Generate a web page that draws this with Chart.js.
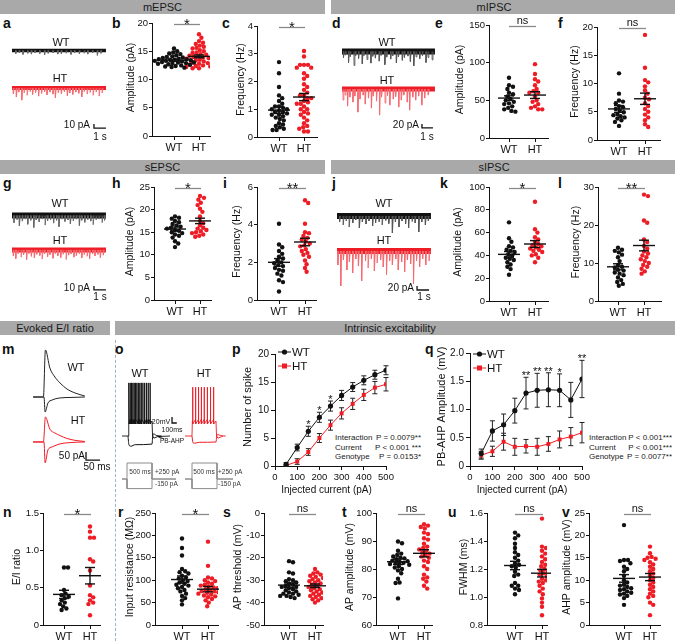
<!DOCTYPE html>
<html>
<head>
<meta charset="utf-8">
<title>Synaptic transmission and intrinsic excitability</title>
<script src="https://cdn.jsdelivr.net/npm/chart.js@4.4.1/dist/chart.umd.min.js"></script>
<style>
  body { margin: 0; background: #fff; }
  #fig { position: relative; width: 675px; height: 641px; overflow: hidden; font-family: Arial, "Liberation Sans", sans-serif; color: #111; }
  #fig canvas { position: absolute; }
  .hdr { position: absolute; height: 14px; background: #a9a9a9; font-size: 11px; line-height: 14px; text-align: center; color: #1a1a1a; }
  .lt { position: absolute; font-weight: bold; font-size: 14px; line-height: 1; }
  .tx { position: absolute; white-space: nowrap; line-height: 1; }
  .sep { position: absolute; left: 115px; top: 340px; height: 301px; border-left: 1px dashed #9fb4c2; }
  .stat { position: absolute; font-size: 8px; line-height: 9.5px; color: #222; }
  .stat div { display: flex; justify-content: space-between; }
</style>
</head>
<body>
<div id="fig">
  <div class="hdr" style="left:0;top:0;width:325px">mEPSC</div>
  <div class="hdr" style="left:331px;top:0;width:326px;padding-right:18px">mIPSC</div>
  <div class="hdr" style="left:0;top:160px;width:325px">sEPSC</div>
  <div class="hdr" style="left:331px;top:160px;width:326px;padding-right:18px">sIPSC</div>
  <div class="hdr" style="left:0;top:321px;width:110px">Evoked E/I ratio</div>
  <div class="hdr" style="left:115px;top:321px;width:550px;padding-right:10px">Intrinsic excitability</div>
  <div class="sep"></div>
  <div class="stat" style="left:335px;top:433px;width:86px">
    <div><span>Interaction</span><span>P = 0.0079**</span></div>
    <div><span>Current</span><span>P &lt; 0.001 ***</span></div>
    <div><span>Genotype</span><span>P = 0.0153*</span></div>
  </div>
  <div class="stat" style="left:589px;top:433px;width:83px">
    <div><span>Interaction</span><span>P &lt; 0.001***</span></div>
    <div><span>Current</span><span>P &lt; 0.001***</span></div>
    <div><span>Genotype</span><span>P = 0.0077**</span></div>
  </div>
</div>
<script>
// ---------- data ----------
const groups = ['WT', 'HT'];

// mEPSC
const mepscAmpWT = [15.5, 15.0, 14.8, 14.6, 14.5, 14.3, 14.1, 14.0, 13.9, 13.8, 13.7, 13.6, 13.6, 13.5, 13.5, 13.4, 13.3, 13.3, 13.2, 13.1, 13.0, 13.0, 12.9, 12.9, 12.8, 12.7, 12.6, 12.5, 12.4, 12.3, 12.2, 12.1];
const mepscAmpHT = [18.0, 17.4, 16.8, 16.5, 16.3, 16.0, 15.8, 15.6, 15.5, 15.2, 15.0, 14.8, 14.7, 14.5, 14.4, 14.2, 14.1, 14.0, 13.9, 13.8, 13.7, 13.6, 13.5, 13.4, 13.2, 13.0, 12.9, 12.8, 12.6, 12.5, 12.4, 12.3, 12.2, 12.0, 12.0];
const mepscAmpMean = [13.4, 14.1], mepscAmpSem = [0.15, 0.25];
const mepscFreqWT = [2.7, 2.3, 1.8, 1.5, 1.4, 1.3, 1.2, 1.1, 1.1, 1.05, 1.0, 1.0, 0.95, 0.9, 0.9, 0.85, 0.8, 0.8, 0.75, 0.7, 0.65, 0.6, 0.5, 0.45, 0.4, 0.35, 0.3, 0.25, 0.25];
const mepscFreqHT = [3.1, 2.9, 2.6, 2.6, 2.6, 2.5, 2.5, 2.3, 2.2, 2.1, 1.9, 1.8, 1.7, 1.6, 1.5, 1.5, 1.4, 1.4, 1.3, 1.25, 1.2, 1.2, 1.1, 1.0, 1.0, 0.9, 0.85, 0.8, 0.7, 0.6, 0.5, 0.4, 0.35, 0.3, 0.2, 0.2];
const mepscFreqMean = [0.97, 1.44], mepscFreqSem = [0.12, 0.13];
// mIPSC
const mipscAmpWT = [80, 70, 68, 65, 60, 58, 55, 52, 50, 48, 46, 45, 42, 40, 38, 36, 35];
const mipscAmpHT = [98, 85, 78, 75, 70, 65, 62, 60, 60, 55, 50, 48, 45, 42, 40, 38, 38];
const mipscAmpMean = [53, 57], mipscAmpSem = [3, 4.5];
const mipscFreqWT = [11.8, 8.2, 7.0, 6.8, 6.5, 6.0, 5.8, 5.5, 5.2, 4.9, 4.6, 4.4, 4.2, 4.0, 3.8, 3.5, 3.2, 2.5];
const mipscFreqHT = [18.6, 12.8, 10.6, 10.2, 9.5, 8.8, 8.2, 7.5, 7.2, 6.5, 6.0, 5.5, 5.0, 4.5, 4.0, 3.5, 2.8, 2.3];
const mipscFreqMean = [5.5, 7.3], mipscFreqSem = [0.6, 1.0];
// sEPSC
const sepscAmpWT = [18.5, 18.2, 18.0, 17.5, 17.2, 16.8, 16.5, 16.2, 16.0, 15.8, 15.5, 15.3, 15.0, 14.8, 14.5, 14.2, 13.8, 13.0, 12.5, 11.7];
const sepscAmpHT = [23.0, 22.6, 22.2, 21.5, 21.0, 20.2, 19.5, 18.5, 17.5, 17.0, 16.5, 16.0, 15.8, 15.5, 15.2, 15.0, 14.8, 14.5, 14.2, 14.0];
const sepscAmpMean = [15.7, 17.5], sepscAmpSem = [0.45, 0.6];
const sepscFreqWT = [4.05, 2.95, 2.8, 2.6, 2.45, 2.3, 2.2, 2.1, 2.0, 1.95, 1.85, 1.8, 1.7, 1.6, 1.55, 1.4, 1.3, 1.05, 0.95, 0.45];
const sepscFreqHT = [5.3, 5.15, 4.05, 3.6, 3.55, 3.4, 3.3, 3.2, 3.1, 3.0, 2.9, 2.85, 2.7, 2.6, 2.5, 2.4, 2.3, 2.1, 1.9, 1.7, 1.5];
const sepscFreqMean = [2.0, 3.08], sepscFreqSem = [0.2, 0.2];
// sIPSC
const sipscAmpWT = [69, 55, 52, 48, 47, 45, 44, 43, 41, 40, 38, 37, 36, 34, 32, 30, 28, 23];
const sipscAmpHT = [87, 63, 60, 56, 54, 52, 50, 49, 48, 47, 46, 45, 44, 43, 41, 40, 38, 34];
const sipscAmpMean = [40.9, 50.0], sipscAmpSem = [2.5, 3.0];
const sipscFreqWT = [14, 13.5, 13.2, 12.8, 12.2, 11.5, 10.5, 9.5, 9.0, 8.8, 8.2, 8.0, 7.5, 7.2, 6.8, 6.2, 5.5, 5.0, 4.5, 4.0];
const sipscFreqHT = [28, 27.6, 21.2, 20.6, 16.2, 15.5, 14.5, 13.8, 13.0, 12.5, 12.0, 11.5, 11.0, 10.5, 10.0, 9.5, 9.0, 8.5, 7.8, 7.2];
const sipscFreqMean = [9.0, 14.6], sipscFreqSem = [0.8, 1.4];
// evoked E/I
const eiWT = [0.77, 0.77, 0.47, 0.42, 0.40, 0.38, 0.36, 0.33, 0.30, 0.28, 0.25, 0.22, 0.20];
const eiHT = [1.32, 1.25, 1.17, 1.17, 0.88, 0.85, 0.73, 0.53, 0.40, 0.37, 0.33, 0.30, 0.28, 0.13];
const eiMean = [0.41, 0.66], eiSem = [0.055, 0.11];
// intrinsic
const rinWT = [193, 172, 155, 125, 120, 118, 115, 110, 106, 104, 100, 98, 95, 92, 90, 88, 85, 82, 78, 75, 70, 65, 60, 55, 46];
const rinHT = [186, 132, 106, 104, 100, 98, 95, 92, 90, 88, 86, 84, 82, 80, 78, 76, 75, 73, 72, 70, 68, 66, 64, 62, 58, 55, 50, 42];
const rinMean = [101.5, 80], rinSem = [8, 6];
const thrWT = [-21.5, -22, -26.5, -27, -29.5, -30, -30.5, -31, -31.5, -32, -32.5, -33, -33, -33.5, -34, -34.5, -35, -35.5, -36, -36, -36.5, -37, -37, -37.5, -38];
const thrHT = [-25, -26.5, -27, -27.5, -28, -28.5, -29, -29.5, -30, -30.5, -31, -31.5, -32, -32.5, -33, -33.5, -34, -34.5, -35, -35.5, -36, -36.5, -37, -37.5, -38, -38.5, -39, -40];
const thrMean = [-32.2, -32.5], thrSem = [1.0, 0.8];
const apAmpWT = [89.8, 89.2, 86.5, 85.5, 85, 84.5, 84, 83.8, 83.5, 83, 82.8, 82.5, 82.2, 82, 81.8, 81.5, 81, 80.5, 80, 79.5, 78.5, 76.5, 75.2, 75, 69.5];
const apAmpHT = [96, 95.5, 95, 94.5, 93, 92.5, 91, 90.5, 89, 88, 87.5, 87, 86.5, 86, 85.5, 85, 84.5, 84, 83, 82.5, 81, 80, 78, 77, 76.5, 75.5, 74, 73];
const apAmpMean = [82.6, 85.6], apAmpSem = [1.0, 1.3];
const fwhmWT = [1.46, 1.44, 1.42, 1.38, 1.35, 1.32, 1.30, 1.28, 1.26, 1.24, 1.23, 1.22, 1.21, 1.18, 1.16, 1.15, 1.10, 1.08, 1.08, 1.06, 1.05, 1.02];
const fwhmHT = [1.56, 1.36, 1.35, 1.33, 1.31, 1.29, 1.27, 1.25, 1.23, 1.22, 1.20, 1.19, 1.18, 1.17, 1.16, 1.15, 1.13, 1.12, 1.11, 1.10, 1.08, 1.06, 1.04, 1.02, 0.99, 0.96, 0.93, 0.87];
const fwhmMean = [1.225, 1.17], fwhmSem = [0.03, 0.027];
const ahpWT = [22.3, 14.5, 14.5, 14.3, 13.8, 13, 12.5, 12, 11, 10, 9.5, 9, 8.8, 8.5, 8.2, 8, 7.8, 7.5, 7.2, 7, 6.8, 6.5, 6, 4.5];
const ahpHT = [17.5, 16, 15.2, 15, 14.8, 14.5, 14, 13.5, 13, 12.5, 12, 11.5, 11, 10.5, 10, 9.5, 9, 8.5, 8, 7.5, 7, 6.5, 6.2, 5, 4.5, 2.2];
const ahpMean = [10.4, 10.7], ahpSem = [0.85, 0.8];

// current steps (p, q)
const injCurrent = [50, 100, 150, 200, 250, 300, 350, 400, 450, 500];
const spikeWT = [0.3, 3.3, 6.2, 8.7, 10.7, 12.6, 14.1, 15.3, 16.3, 17.1];
const spikeWTsem = [0.3, 0.6, 0.9, 0.9, 0.9, 0.9, 0.8, 0.8, 0.8, 0.8];
const spikeHT = [0.1, 0.8, 2.5, 5.0, 7.3, 9.4, 11.1, 12.7, 14.0, 14.6];
const spikeHTsem = [0.1, 0.5, 0.6, 0.8, 0.9, 1.0, 1.0, 1.0, 1.1, 1.2];
const spikeStars = ['', '', '*', '*', '*', '', '', '', '', ''];
const pbWT = [0.22, 0.62, 0.73, 0.98, 1.29, 1.34, 1.35, 1.34, 1.17, 1.54];
const pbWTsem = [0.08, 0.18, 0.19, 0.22, 0.28, 0.30, 0.30, 0.29, 0.31, 0.33];
const pbHT = [0.19, 0.26, 0.43, 0.34, 0.35, 0.34, 0.39, 0.47, 0.52, 0.59];
const pbHTsem = [0.07, 0.09, 0.15, 0.15, 0.12, 0.15, 0.13, 0.15, 0.16, 0.18];
const pbStars = ['', '', '', '', '**', '**', '**', '*', '', '**'];

// example traces: event times (s) and amplitudes (pA)
const aWTt = [0.3, 0.6, 0.9, 1.3, 1.6, 1.9, 2.3, 2.7, 3.0, 3.4, 3.8, 4.1, 4.5, 4.9, 5.2, 5.6, 6.0, 6.3, 6.7, 7.1, 7.4];
const aWTa = [8, 6, 10, 7, 9, 6, 8, 11, 7, 6, 9, 8, 7, 10, 6, 8, 7, 9, 6, 12, 7];
const aHTt = [0.1, 0.35, 0.55, 0.8, 1.0, 1.25, 1.5, 1.7, 1.95, 2.2, 2.45, 2.7, 2.9, 3.15, 3.4, 3.6, 3.85, 4.1, 4.35, 4.6, 4.8, 5.05, 5.3, 5.55, 5.8, 6.0, 6.25, 6.5, 6.75, 7.0, 7.25, 7.5];
const aHTa = [14, 22, 10, 30, 12, 18, 9, 16, 11, 20, 13, 9, 17, 10, 15, 24, 11, 14, 9, 19, 12, 16, 10, 13, 22, 9, 15, 11, 18, 10, 20, 12];
const dWTt = [0.12, 0.31, 0.58, 0.74, 1.08, 1.22, 1.49, 1.83, 1.97, 2.26, 2.61, 2.78, 3.02, 3.37, 3.55, 3.88, 4.05, 4.41, 4.6, 4.93, 5.12, 5.47, 5.66, 5.98, 6.2, 6.51, 6.72, 7.05, 7.3, 7.62, 7.81, 8.18];
const dWTa = [30, 18, 55, 25, 70, 22, 35, 62, 20, 40, 58, 24, 33, 48, 19, 66, 28, 38, 21, 57, 26, 44, 30, 23, 50, 72, 27, 36, 20, 55, 30, 42];
const dHTt = [0.08, 0.27, 0.49, 0.7, 0.98, 1.15, 1.43, 1.62, 1.91, 2.1, 2.39, 2.66, 2.83, 3.12, 3.4, 3.58, 3.9, 4.12, 4.33, 4.65, 4.86, 5.14, 5.38, 5.6, 5.92, 6.13, 6.42, 6.68, 6.95, 7.24, 7.5, 7.83];
const dHTa = [55, 30, 85, 40, 65, 35, 115, 50, 30, 75, 45, 95, 35, 60, 130, 40, 70, 32, 80, 50, 38, 90, 55, 30, 65, 105, 40, 55, 35, 80, 45, 30];
const gWTt = [0.15, 0.4, 0.6, 0.85, 1.1, 1.3, 1.55, 1.8, 2.0, 2.25, 2.5, 2.75, 2.95, 3.2, 3.45, 3.7, 3.9, 4.15, 4.4, 4.65, 4.85, 5.1, 5.35, 5.6, 5.8, 6.05, 6.3, 6.55, 6.75, 7.0, 7.25, 7.5, 7.7];
const gWTa = [18, 10, 26, 14, 9, 22, 12, 30, 11, 16, 9, 24, 13, 10, 19, 12, 28, 9, 15, 11, 21, 13, 9, 25, 12, 17, 10, 14, 23, 11, 9, 18, 12];
const gHTt = [0.1, 0.3, 0.5, 0.75, 0.95, 1.2, 1.4, 1.6, 1.85, 2.05, 2.3, 2.5, 2.7, 2.95, 3.15, 3.4, 3.6, 3.8, 4.05, 4.25, 4.5, 4.7, 4.9, 5.15, 5.35, 5.6, 5.8, 6.0, 6.25, 6.45, 6.7, 6.9, 7.15, 7.35, 7.6];
const gHTa = [15, 22, 10, 18, 12, 25, 9, 16, 20, 11, 14, 23, 10, 17, 12, 21, 9, 15, 19, 11, 24, 13, 10, 18, 14, 9, 20, 12, 16, 22, 10, 15, 11, 19, 13];
const jWTt = [0.2, 0.5, 0.75, 1.0, 1.3, 1.55, 1.85, 2.1, 2.4, 2.65, 2.95, 3.2, 3.5, 3.75, 4.05, 4.3, 4.6, 4.85, 5.15, 5.4, 5.7, 5.95, 6.25, 6.5, 6.8, 7.05, 7.35, 7.6];
const jWTa = [30, 45, 25, 55, 35, 20, 60, 30, 40, 25, 50, 35, 28, 45, 22, 38, 85, 30, 55, 25, 40, 60, 28, 35, 80, 30, 45, 25];
const jHTt = [0.06, 0.3, 0.52, 0.81, 1.02, 1.29, 1.55, 1.77, 2.04, 2.36, 2.58, 2.85, 3.1, 3.33, 3.62, 3.84, 4.11, 4.37, 4.6, 4.88, 5.09, 5.37, 5.62, 5.85, 6.12, 6.36, 6.61, 6.87, 7.12, 7.38, 7.66];
const jHTa = [70, 175, 45, 95, 55, 110, 40, 75, 150, 50, 85, 40, 100, 60, 45, 80, 120, 50, 70, 40, 95, 55, 105, 45, 65, 165, 50, 80, 40, 70, 50];

// evoked currents (m): time (ms), current (pA)
const mOutT = [11, 48, 55, 71, 89, 107, 132, 161, 196];
const mWTout = [0, 0, 294, 181, 125, 88, 50, 25, 6];
const mHTout = [0, 0, 156, 80, 56, 40, 22, 10, 3];
const mInT = [11, 50, 54, 64, 79, 107, 143, 196];
const mWTin = [0, 0, -94, -38, -19, -6, -3, 0];
const mHTin = [0, 0, -131, -50, -31, -12, -4, 0];

// current-clamp traces (o): time (ms), voltage (mV)
const oWTspikes = [20, 45, 72, 100, 128, 156, 185, 214, 245, 276, 310, 345, 382, 420, 460];
const oHTspikes = [15, 75, 135, 195, 255, 320, 385, 450];
const oWTdepT = [-125, 0, 8, 500, 512, 540, 620, 875];
const oHTdepT = [-146, 0, 8, 500, 512, 540, 620, 646];
const oDepV = [-70, -70, -20, -20, -70, -77, -72, -70];
const oHypT = [0, 20, 60, 150, 500, 515, 535, 600, 700];
const oWThypV = [-70, -100, -104, -99, -97, -70, -63, -69, -70];
const oHThypV = [-70, -92, -94, -91, -90, -70, -65, -69, -70];
const stimAmps = [250, -150], stimDur = 500;

// ---------- helpers ----------
const RED = '#ee1c25';
const FONT = 'Arial, "Liberation Sans", sans-serif';
Chart.defaults.font.family = FONT;
Chart.defaults.color = '#111';
Chart.defaults.animation = false;
Chart.defaults.responsive = false;
Chart.defaults.maintainAspectRatio = false;
Chart.defaults.events = [];
Chart.defaults.plugins.legend.display = false;
Chart.defaults.plugins.tooltip.enabled = false;

const fig = document.getElementById('fig');

function addCanvas(l, t, w, h) {
  const c = document.createElement('canvas');
  c.width = Math.round(w); c.height = Math.round(h);
  c.style.left = Math.round(l) + 'px'; c.style.top = Math.round(t) + 'px';
  fig.appendChild(c);
  return c;
}

function txt(s, x, y, size, align, color) {
  const d = document.createElement('div');
  d.className = 'tx';
  d.textContent = s;
  d.style.left = x + 'px'; d.style.top = y + 'px';
  d.style.fontSize = size + 'px';
  if (color) d.style.color = color;
  const tx = align === 'c' ? -50 : align === 'r' ? -100 : 0;
  d.style.transform = 'translate(' + tx + '%, -50%)';
  fig.appendChild(d);
}

function letter(ch, x, base) {
  const d = document.createElement('div');
  d.className = 'lt'; d.textContent = ch;
  d.style.left = x + 'px'; d.style.top = (base - 12) + 'px';
  fig.appendChild(d);
}

const axisGrid = () => ({ drawOnChartArea: false, drawTicks: true, tickLength: 4, color: '#111', tickColor: '#111', lineWidth: 1 });
const axisBorder = () => ({ display: true, color: '#111', width: 1 });

function seg(ctx, x1, y1, x2, y2) { ctx.beginPath(); ctx.moveTo(x1, y1); ctx.lineTo(x2, y2); ctx.stroke(); }

function yTitle(ctx, text, x, cy, size) {
  ctx.save();
  ctx.translate(x, cy); ctx.rotate(-Math.PI / 2);
  ctx.font = size + 'px ' + FONT; ctx.fillStyle = '#111';
  ctx.textAlign = 'center'; ctx.textBaseline = 'middle';
  ctx.fillText(text, 0, 0);
  ctx.restore();
}

// simple beeswarm: pixel offsets so dots don't overlap much
function swarm(vals, toPix, r) {
  const order = vals.map((v, i) => i).sort((a, b) => vals[b] - vals[a]);
  const off = [], placed = [], dmin = 2 * r - 0.5;
  for (const i of order) {
    const py = toPix(vals[i]);
    for (let k = 0; k < 80; k++) {
      const dx = k === 0 ? 0 : (k % 2 ? 1 : -1) * Math.ceil(k / 2) * 0.8;
      if (placed.every(p => (p[0] - dx) ** 2 + (p[1] - py) ** 2 >= dmin * dmin)) {
        off[i] = dx; placed.push([dx, py]); break;
      }
    }
  }
  return off;
}

// WT vs HT scatter with mean ± SEM
function dotPlot(o) {
  const PT = 18, XH = 26, PR = 4, R = 2.2;
  const left = Math.round(o.titleX - 8);
  const yw = o.ax - left, pw = o.right - o.ax, ph = o.bottom - o.top;
  const cv = addCanvas(left, o.top - PT, yw + pw + PR, PT + ph + XH);
  const s = o.ht - o.wt;
  const toPix = v => o.bottom - (v - o.min) / (o.max - o.min) * ph;
  const pts = (vals, c) => {
    const off = swarm(vals, toPix, R);
    return vals.map((v, i) => ({ x: c + off[i] / s, y: v }));
  };
  const yTicks = { stepSize: o.step, font: { size: 9.5 }, color: '#111', padding: 1 };
  if (o.dec) yTicks.callback = v => (v === 0 ? '0' : v.toFixed(o.dec));
  const yGrid = axisGrid(); yGrid.tickLength = 3;
  new Chart(cv, {
    type: 'scatter',
    data: { datasets: [
      { data: pts(o.wtv, 1), backgroundColor: '#111', borderWidth: 0, pointRadius: R },
      { data: pts(o.htv, 2), backgroundColor: RED, borderWidth: 0, pointRadius: R }
    ] },
    options: {
      layout: { padding: { top: PT, right: PR, left: 0, bottom: 0 } },
      scales: {
        x: {
          type: 'linear', min: 1 - (o.wt - o.ax) / s, max: 2 + (o.right - o.ht) / s,
          afterBuildTicks: sc => { sc.ticks = [{ value: 1 }, { value: 2 }]; },
          ticks: { callback: v => groups[v - 1], font: { size: 11 }, color: '#111', padding: 1, maxRotation: 0, autoSkip: false },
          grid: axisGrid(), border: axisBorder(),
          afterFit: sc => { sc.height = XH; }
        },
        y: {
          min: o.min, max: o.max, ticks: yTicks, grid: yGrid, border: axisBorder(),
          afterFit: sc => { sc.width = yw; }
        }
      }
    },
    plugins: [{
      id: 'deco',
      afterDatasetsDraw(ch) {
        const { ctx, chartArea } = ch, x = ch.scales.x, y = ch.scales.y;
        ctx.save();
        ctx.strokeStyle = '#111'; ctx.lineWidth = 1.4;
        [1, 2].forEach((c, g) => {
          const cx = x.getPixelForValue(c), m = y.getPixelForValue(o.mean[g]);
          const hi = y.getPixelForValue(o.mean[g] + o.sem[g]), lo = y.getPixelForValue(o.mean[g] - o.sem[g]);
          seg(ctx, cx - 11, m, cx + 11, m);
          seg(ctx, cx, hi, cx, lo);
          seg(ctx, cx - 5, hi, cx + 5, hi);
          seg(ctx, cx - 5, lo, cx + 5, lo);
        });
        const x1 = x.getPixelForValue(1), x2 = x.getPixelForValue(2), sy = chartArea.top + 1.5;
        ctx.strokeStyle = '#8a8a8a'; ctx.lineWidth = 1.3;
        seg(ctx, x1, sy, x2 + 1, sy);
        ctx.fillStyle = '#111'; ctx.textAlign = 'center'; ctx.textBaseline = 'alphabetic';
        if (o.sig === 'ns') {
          ctx.font = '11px ' + FONT; ctx.fillText('ns', (x1 + x2) / 2 + 0.5, sy - 2.5);
        } else {
          ctx.font = '15px ' + FONT; ctx.fillText(o.sig, (x1 + x2) / 2 + 0.5, sy + 4.5);
        }
        ctx.restore();
        yTitle(ctx, o.title, o.titleX - left, (chartArea.top + chartArea.bottom) / 2 - 2, 10.5);
      }
    }]
  });
}

// injected current curves with SEM bars
function curvePlot(o) {
  const PT = 14, XH = 31, PR = 12;
  const left = Math.round(o.titleX - 8);
  const yw = o.ax - left, pw = o.right - o.ax, ph = o.bottom - o.top;
  const cv = addCanvas(left, o.top - PT, yw + pw + PR, PT + ph + XH);
  const series = vals => injCurrent.map((c, i) => ({ x: c, y: vals[i] }));
  new Chart(cv, {
    type: 'line',
    data: { datasets: [
      { data: series(o.wt), borderColor: '#111', backgroundColor: '#111', borderWidth: 1, pointRadius: 2.6, pointStyle: 'circle', pointBorderWidth: 0 },
      { data: series(o.ht), borderColor: RED, backgroundColor: RED, borderWidth: 1, pointRadius: 2.8, pointStyle: 'rect', pointBorderWidth: 0 }
    ] },
    options: {
      layout: { padding: { top: PT, right: PR, left: 0, bottom: 0 } },
      elements: { line: { tension: 0 } },
      scales: {
        x: {
          type: 'linear', min: 0, max: 500,
          ticks: { stepSize: 100, font: { size: 9.5 }, color: '#111', padding: 2, maxRotation: 0 },
          grid: axisGrid(), border: axisBorder(),
          afterFit: sc => { sc.height = XH; }
        },
        y: {
          min: 0, max: o.max,
          ticks: { stepSize: o.step, font: { size: 10 }, color: '#111', padding: 2, callback: o.fmt },
          grid: axisGrid(), border: axisBorder(),
          afterFit: sc => { sc.width = yw; }
        }
      }
    },
    plugins: [{
      id: 'errs',
      beforeDatasetsDraw(ch) {
        const ctx = ch.ctx, x = ch.scales.x, y = ch.scales.y;
        ctx.save(); ctx.strokeStyle = '#222'; ctx.lineWidth = 1;
        [[o.wt, o.wtSem], [o.ht, o.htSem]].forEach(([m, e]) => {
          injCurrent.forEach((c, i) => {
            const px = x.getPixelForValue(c), hi = y.getPixelForValue(m[i] + e[i]), lo = y.getPixelForValue(m[i] - e[i]);
            seg(ctx, px, hi, px, lo);
            seg(ctx, px - 2.5, hi, px + 2.5, hi);
            seg(ctx, px - 2.5, lo, px + 2.5, lo);
          });
        });
        ctx.restore();
      },
      afterDatasetsDraw(ch) {
        const { ctx, chartArea } = ch, x = ch.scales.x, y = ch.scales.y;
        ctx.save();
        // significance marks
        ctx.fillStyle = '#111'; ctx.font = '11px ' + FONT; ctx.textAlign = 'center'; ctx.textBaseline = 'alphabetic';
        injCurrent.forEach((c, i) => {
          if (o.stars[i]) ctx.fillText(o.stars[i], x.getPixelForValue(c), y.getPixelForValue(o.wt[i] + o.wtSem[i]) + 2);
        });
        // legend
        const lx = chartArea.left + 3, ly = chartArea.top + o.legDy;
        [['WT', '#111', 'circle'], ['HT', RED, 'rect']].forEach(([name, col, shape], k) => {
          const yy = ly + k * 14;
          ctx.strokeStyle = col; ctx.fillStyle = col; ctx.lineWidth = 1;
          seg(ctx, lx, yy, lx + 13, yy);
          if (shape === 'circle') { ctx.beginPath(); ctx.arc(lx + 6.5, yy, 2.6, 0, Math.PI * 2); ctx.fill(); }
          else ctx.fillRect(lx + 4, yy - 2.5, 5, 5);
          ctx.fillStyle = '#111'; ctx.font = '11.5px ' + FONT; ctx.textAlign = 'left'; ctx.textBaseline = 'middle';
          ctx.fillText(name, lx + 14, yy + 0.5);
        });
        ctx.restore();
        yTitle(ctx, o.title, o.titleX - left, (chartArea.top + chartArea.bottom) / 2 - 3, 11);
        ctx.save();
        ctx.fillStyle = '#111'; ctx.font = '10px ' + FONT; ctx.textAlign = 'center'; ctx.textBaseline = 'middle';
        ctx.fillText('Injected current (pA)', (chartArea.left + chartArea.right) / 2 - 4, chartArea.bottom + 24);
        ctx.restore();
      }
    }]
  });
}

// trace canvas: map gives page x of t=0, px per unit, page y of 0, px per unit
function traceChart(rect, map, sets, extra) {
  const [l, t, w, h] = rect;
  const cv = addCanvas(l, t, w, h);
  return new Chart(cv, {
    type: 'line',
    data: { datasets: sets },
    options: {
      layout: { padding: 0 },
      elements: { point: { radius: 0 }, line: { tension: 0 } },
      scales: {
        x: { type: 'linear', display: false, min: (l - map.x0) / map.px, max: (l + w - map.x0) / map.px },
        y: { type: 'linear', display: false, min: -(t + h - map.y0) / map.py, max: (map.y0 - t) / map.py }
      }
    },
    plugins: extra ? [extra] : []
  });
}

function band(tEnd, base, color, bw) {
  return { data: [{ x: 0, y: base }, { x: tEnd, y: base }], borderColor: color, borderWidth: bw };
}
function spikes(ts, amps, base, color) {
  const pts = [];
  ts.forEach((t, i) => {
    pts.push({ x: t, y: base }, { x: t + 0.015, y: base - amps[i] }, { x: t + 0.09, y: base }, { x: t + 0.09, y: null });
  });
  return { data: pts, borderColor: color, borderWidth: 0.9, spanGaps: false };
}
function scaleBar(t, y, dt, dy) {
  return { data: [{ x: t, y: y + dy }, { x: t, y: y }, { x: t + dt, y: y }], borderColor: '#111', borderWidth: 1.3 };
}
function xy(ts, vs, shift, off) {
  return ts.map((t, i) => ({ x: t + (shift || 0), y: vs[i] + (off || 0) }));
}

// ---------- panel letters ----------
[['a', 3, 28], ['b', 112, 28], ['c', 222, 28], ['d', 332, 28], ['e', 435, 28], ['f', 558, 28],
 ['g', 3, 188], ['h', 112, 188], ['i', 223, 188], ['j', 332, 188], ['k', 440, 188], ['l', 558, 188],
 ['m', 2, 354], ['o', 115, 354], ['p', 232, 354], ['q', 425, 354],
 ['n', 3, 517], ['r', 118, 517], ['s', 223, 517], ['t', 342, 517], ['u', 448, 517], ['v', 562, 517]]
  .forEach(([c, x, b]) => letter(c, x, b));

// ---------- example traces a, d, g, j ----------
traceChart([8, 38, 104, 100], { x0: 12, px: 12, y0: 50.5, py: 0.4 }, [
  spikes(aWTt, aWTa, 0, '#666'), band(7.83, 0, '#111', 3.5),
  spikes(aHTt, aHTa, -94, '#f56b72'), band(7.83, -94, RED, 4),
  scaleBar(6.83, -194, 1, 10)
]);
txt('WT', 61, 42, 11, 'c'); txt('HT', 60, 78, 11, 'c');
txt('10 pA', 90, 125, 10, 'r'); txt('1 s', 100, 137, 10, 'c');

traceChart([338, 38, 100, 100], { x0: 342, px: 11, y0: 51.5, py: 0.2 }, [
  spikes(dWTt, dWTa, 0, '#555'), band(8.45, 0, '#111', 6),
  spikes(dHTt, dHTa, -188, '#f56b72'), band(8.45, -188, RED, 5),
  scaleBar(7.27, -382, 1, 20)
]);
txt('WT', 387, 42, 11, 'c'); txt('HT', 387, 80, 11, 'c');
txt('20 pA', 419, 125, 10, 'r'); txt('1 s', 427, 137, 10, 'c');

traceChart([8, 198, 104, 100], { x0: 12, px: 12, y0: 215.5, py: 0.4 }, [
  spikes(gWTt, gWTa, 0, '#666'), band(7.83, 0, '#111', 6),
  spikes(gHTt, gHTa, -86, '#f56b72'), band(7.83, -86, RED, 5),
  scaleBar(6.83, -186, 1, 10)
]);
txt('WT', 60, 203, 11, 'c'); txt('HT', 60, 240, 11, 'c');
txt('10 pA', 90, 288, 10, 'r'); txt('1 s', 100, 297, 10, 'c');

traceChart([333, 198, 100, 100], { x0: 337, px: 12, y0: 216, py: 0.2 }, [
  spikes(jWTt, jWTa, 0, '#555'), band(7.83, 0, '#111', 6),
  spikes(jHTt, jHTa, -175, '#f56b72'), band(7.83, -175, RED, 6),
  scaleBar(6.67, -370, 1, 20)
]);
txt('WT', 384, 203, 11, 'c'); txt('HT', 384, 240, 11, 'c');
txt('20 pA', 414, 288, 10, 'r'); txt('1 s', 424, 297, 10, 'c');

// ---------- dot plots ----------
dotPlot({ ax: 152, top: 23, bottom: 136, right: 210, wt: 174, ht: 199, titleX: 131, min: 0, max: 20, step: 5, title: 'Amplitude (pA)', wtv: mepscAmpWT, htv: mepscAmpHT, mean: mepscAmpMean, sem: mepscAmpSem, sig: '*' });
dotPlot({ ax: 257, top: 26, bottom: 137, right: 317, wt: 279, ht: 304, titleX: 241, min: 0, max: 4, step: 1, title: 'Frequency (Hz)', wtv: mepscFreqWT, htv: mepscFreqHT, mean: mepscFreqMean, sem: mepscFreqSem, sig: '*' });
dotPlot({ ax: 489, top: 25, bottom: 138, right: 548, wt: 509, ht: 535, titleX: 460, min: 0, max: 150, step: 50, title: 'Amplitude (pA)', wtv: mipscAmpWT, htv: mipscAmpHT, mean: mipscAmpMean, sem: mipscAmpSem, sig: 'ns' });
dotPlot({ ax: 597, top: 27, bottom: 140, right: 660, wt: 619, ht: 645, titleX: 575, min: 0, max: 20, step: 5, title: 'Frequency (Hz)', wtv: mipscFreqWT, htv: mipscFreqHT, mean: mipscFreqMean, sem: mipscFreqSem, sig: 'ns' });
dotPlot({ ax: 154, top: 187, bottom: 300, right: 211, wt: 175, ht: 200, titleX: 130, min: 0, max: 25, step: 5, title: 'Amplitude (pA)', wtv: sepscAmpWT, htv: sepscAmpHT, mean: sepscAmpMean, sem: sepscAmpSem, sig: '*' });
dotPlot({ ax: 257, top: 187, bottom: 300, right: 316, wt: 279, ht: 305, titleX: 237, min: 0, max: 6, step: 2, title: 'Frequency (Hz)', wtv: sepscFreqWT, htv: sepscFreqHT, mean: sepscFreqMean, sem: sepscFreqSem, sig: '**' });
dotPlot({ ax: 489, top: 187, bottom: 301, right: 548, wt: 509, ht: 535, titleX: 458, min: 0, max: 100, step: 20, title: 'Amplitude (pA)', wtv: sipscAmpWT, htv: sipscAmpHT, mean: sipscAmpMean, sem: sipscAmpSem, sig: '*' });
dotPlot({ ax: 598, top: 187, bottom: 301, right: 661, wt: 618, ht: 644, titleX: 576, min: 0, max: 30, step: 10, title: 'Frequency (Hz)', wtv: sipscFreqWT, htv: sipscFreqHT, mean: sipscFreqMean, sem: sipscFreqSem, sig: '**' });
dotPlot({ ax: 43, top: 513, bottom: 625, right: 100, wt: 64, ht: 90, titleX: 17, min: 0, max: 1.5, step: 0.5, dec: 1, title: 'E/I ratio', wtv: eiWT, htv: eiHT, mean: eiMean, sem: eiSem, sig: '*' });
dotPlot({ ax: 155, top: 513, bottom: 625, right: 218, wt: 182, ht: 208, titleX: 130, min: 0, max: 250, step: 50, title: 'Input resistance (MΩ)', wtv: rinWT, htv: rinHT, mean: rinMean, sem: rinSem, sig: '*' });
dotPlot({ ax: 264, top: 513, bottom: 625, right: 323, wt: 289, ht: 315, titleX: 238, min: -50, max: 0, step: 10, title: 'AP threshold (mV)', wtv: thrWT, htv: thrHT, mean: thrMean, sem: thrSem, sig: 'ns' });
dotPlot({ ax: 376, top: 513, bottom: 625, right: 432, wt: 398, ht: 424, titleX: 350, min: 60, max: 100, step: 10, title: 'AP amplitude (mV)', wtv: apAmpWT, htv: apAmpHT, mean: apAmpMean, sem: apAmpSem, sig: 'ns' });
dotPlot({ ax: 487, top: 513, bottom: 625, right: 547, wt: 515, ht: 542, titleX: 464, min: 0.8, max: 1.6, step: 0.2, dec: 1, title: 'FWHM (ms)', wtv: fwhmWT, htv: fwhmHT, mean: fwhmMean, sem: fwhmSem, sig: 'ns' });
dotPlot({ ax: 589, top: 513, bottom: 625, right: 660, wt: 624, ht: 650, titleX: 567, min: 0, max: 25, step: 5, title: 'AHP amplitude (mV)', wtv: ahpWT, htv: ahpHT, mean: ahpMean, sem: ahpSem, sig: 'ns' });

// ---------- m: evoked EPSC/IPSC ----------
const mHTshift = -281;
traceChart([30, 340, 82, 130], { x0: 30, px: 0.28, y0: 397, py: 0.16 }, [
  { data: xy(mOutT, mWTout), borderColor: '#222', borderWidth: 1, cubicInterpolationMode: 'monotone' },
  { data: xy(mInT, mWTin), borderColor: '#222', borderWidth: 1, cubicInterpolationMode: 'monotone' },
  { data: xy(mOutT, mHTout, 0, mHTshift), borderColor: RED, borderWidth: 1, cubicInterpolationMode: 'monotone' },
  { data: xy(mInT, mHTin, 0, mHTshift), borderColor: RED, borderWidth: 1, cubicInterpolationMode: 'monotone' },
  scaleBar(200, -394, 50, 50)
]);
txt('WT', 76, 367, 11, 'c'); txt('HT', 78, 420, 11, 'c');
txt('50 pA', 85, 456, 10, 'r'); txt('50 ms', 97, 467, 10, 'c');

// ---------- o: firing traces ----------
function depolTrace(ts, spk, peak, shift) {
  const pts = xy(ts.slice(0, 3), oDepV.slice(0, 3), shift);
  spk.forEach(t => pts.push({ x: t - 1 + shift, y: -15 }, { x: t + shift, y: peak }, { x: t + 3 + shift, y: -30 }));
  return pts.concat(xy(ts.slice(3), oDepV.slice(3), shift));
}
const oHTshift = 1333;
traceChart([117, 378, 120, 72], { x0: 128, px: 0.048, y0: 436 - 70 * 0.3, py: 0.3 }, [
  { data: xy(oHypT, oWThypV), borderColor: '#111', borderWidth: 1, cubicInterpolationMode: 'monotone' },
  { data: depolTrace(oWTdepT, oWTspikes, 107, 0), borderColor: '#111', borderWidth: 0.9 },
  { data: xy(oHypT, oHThypV, oHTshift), borderColor: RED, borderWidth: 1, cubicInterpolationMode: 'monotone' },
  { data: depolTrace(oHTdepT, oHTspikes, 93, oHTshift), borderColor: RED, borderWidth: 0.9 },
  scaleBar(917, -26.7, 100, 20)
], {
  id: 'arrow',
  afterDatasetsDraw(ch) {
    const c = ch.ctx;
    c.save(); c.strokeStyle = '#111'; c.fillStyle = '#111'; c.lineWidth = 0.8;
    const x0 = 164 - 117, y0 = 439 - 378, x1 = 157.5 - 117, y1 = 436 - 378;
    seg(c, x0, y0, x1, y1);
    c.beginPath(); c.moveTo(x1, y1); c.lineTo(x1 + 3, y1 - 0.2); c.lineTo(x1 + 1.8, y1 + 2.2); c.closePath(); c.fill();
    c.restore();
  }
});
txt('WT', 140, 373, 11, 'c'); txt('HT', 204, 373, 11, 'c');
txt('20mV', 161, 421, 7, 'c'); txt('100ms', 172, 429, 7, 'c'); txt('PB-AHP', 172, 441, 6.5, 'c');

// stimulation protocol
function stepTrace(amp, pre, post, shift) {
  return [{ x: pre, y: 0 }, { x: 0, y: 0 }, { x: 0, y: amp }, { x: stimDur, y: amp }, { x: stimDur, y: 0 }, { x: post, y: 0 }]
    .map(p => ({ x: p.x + shift, y: p.y }));
}
traceChart([117, 458, 120, 33], { x0: 127, px: 0.05, y0: 479, py: 0.064 },
  stimAmps.map(a => ({ data: stepTrace(a, -100, 980, 0), borderColor: '#8c8c8c', borderWidth: 1 }))
    .concat(stimAmps.map(a => ({ data: stepTrace(a, -140, 820, 1300), borderColor: '#8c8c8c', borderWidth: 1 }))));
txt('500 ms', 140, 472, 6.5, 'c', '#333'); txt('+250 pA', 155, 472, 6.5, 'l', '#333'); txt('-150 pA', 155, 484, 6.5, 'l', '#333');
txt('500 ms', 204, 472, 6.5, 'c', '#333'); txt('+250 pA', 218, 472, 6.5, 'l', '#333'); txt('-150 pA', 218, 484, 6.5, 'l', '#333');

// ---------- p, q ----------
curvePlot({ ax: 275, top: 354, bottom: 466, right: 386, titleX: 248, max: 20, step: 5, title: 'Number of spike',
  wt: spikeWT, wtSem: spikeWTsem, ht: spikeHT, htSem: spikeHTsem, stars: spikeStars, legDy: -2 });
curvePlot({ ax: 470, top: 353, bottom: 466, right: 582, titleX: 442, max: 2, step: 0.5, title: 'PB-AHP Amplitude (mV)',
  fmt: v => (v === 0 ? '0' : v.toFixed(1)),
  wt: pbWT, wtSem: pbWTsem, ht: pbHT, htSem: pbHTsem, stars: pbStars, legDy: 1 });
</script>
</body>
</html>
